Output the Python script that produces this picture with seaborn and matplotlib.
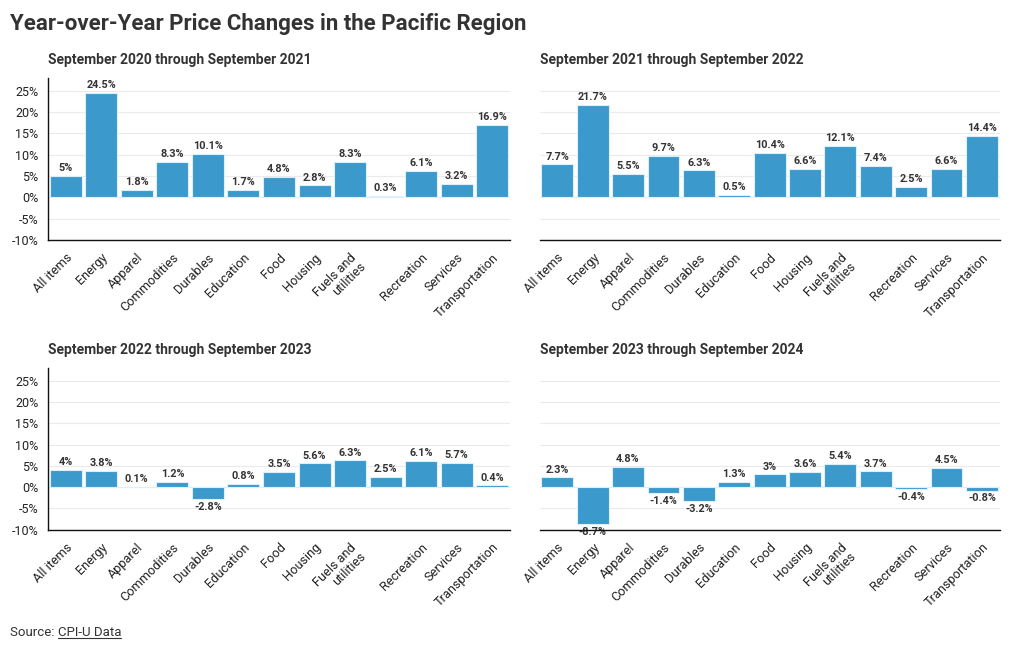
import numpy as np
import pandas as pd
import seaborn as sns
import matplotlib.pyplot as plt
from matplotlib.lines import Line2D

# ---------------------------------------------------------
# Pacific region CPI-U year-over-year changes (%)
# ---------------------------------------------------------
categories = ["All items", "Energy", "Apparel", "Commodities", "Durables",
              "Education", "Food", "Housing", "Fuels and\nutilities", "",
              "Recreation", "Services", "Transportation"]

chg_2021 = [5.0, 24.5, 1.8, 8.3, 10.1, 1.7, 4.8, 2.8, 8.3, 0.3, 6.1, 3.2, 16.9]
chg_2022 = [7.7, 21.7, 5.5, 9.7, 6.3, 0.5, 10.4, 6.6, 12.1, 7.4, 2.5, 6.6, 14.4]
chg_2023 = [4.0, 3.8, 0.1, 1.2, -2.8, 0.8, 3.5, 5.6, 6.3, 2.5, 6.1, 5.7, 0.4]
chg_2024 = [2.3, -8.7, 4.8, -1.4, -3.2, 1.3, 3.0, 3.6, 5.4, 3.7, -0.4, 4.5, -0.8]

panel_titles = ["September 2020 through September 2021",
                "September 2021 through September 2022",
                "September 2022 through September 2023",
                "September 2023 through September 2024"]
panel_values = [chg_2021, chg_2022, chg_2023, chg_2024]

y_ticks = [-10, -5, 0, 5, 10, 15, 20, 25]

# ---------------------------------------------------------
# Styling
# ---------------------------------------------------------
sns.set_style("white")
plt.rcParams["font.family"] = ["Roboto", "DejaVu Sans"]

BAR = "#3b99cc"
EDGE = "#dcefff"
TXT = "#333333"

fig = plt.figure(figsize=(10.2, 6.5), dpi=100)

positions = [
    [0.047, 0.631, 0.453, 0.249],
    [0.529, 0.631, 0.451, 0.249],
    [0.047, 0.185, 0.453, 0.249],
    [0.529, 0.185, 0.451, 0.249],
]

for i, (pos, title, vals) in enumerate(zip(positions, panel_titles, panel_values)):
    ax = fig.add_axes(pos)
    df = pd.DataFrame({"Category": categories, "Change": vals})
    sns.barplot(data=df, x="Category", y="Change", color=BAR, width=0.9,
                edgecolor=EDGE, linewidth=0.8, saturation=1, ax=ax, zorder=2)

    ax.set_ylim(-10, 28)
    ax.set_xlim(-0.5, len(categories) - 0.5)
    ax.set_yticks(y_ticks)
    ax.set_yticklabels([f"{t}%" for t in y_ticks], fontsize=9, color="#222222")
    ax.yaxis.grid(True, color="#ebebeb", linewidth=0.8, zorder=0)
    ax.set_axisbelow(True)
    ax.set_xlabel("")
    ax.set_ylabel("")

    ax.set_xticks(range(len(categories)))
    ax.set_xticklabels(categories, rotation=45, ha="right",
                       rotation_mode="anchor", fontsize=9.2, color="#222222",
                       linespacing=0.95)
    ax.tick_params(axis="x", length=5, color="#666666", width=1, pad=3)

    for s in ["top", "right"]:
        ax.spines[s].set_visible(False)
    ax.spines["bottom"].set_color("#111111")
    ax.spines["bottom"].set_linewidth(1)
    ax.spines["bottom"].set_zorder(5)

    if i % 2 == 0:
        ax.spines["left"].set_color("#111111")
        ax.spines["left"].set_linewidth(1)
        ax.tick_params(axis="y", length=5, color="#666666", width=1, pad=2)
    else:
        ax.spines["left"].set_visible(False)
        ax.tick_params(axis="y", length=0, labelleft=False)

    labels = [f"{v:g}%" for v in vals]
    texts = ax.bar_label(ax.containers[0], labels=labels, padding=2,
                         fontsize=7.8, fontweight="bold", color=TXT)
    for t in texts:
        t.set_zorder(1)
        t.set_clip_on(True)

    ax.text(0.0, 1.07, title, transform=ax.transAxes, fontsize=10,
            fontweight="bold", color=TXT, ha="left", va="bottom")

fig.text(0.0098, 0.963, "Year-over-Year Price Changes in the Pacific Region",
         fontsize=16, fontweight="bold", color=TXT, ha="left", va="center")

src = fig.text(0.0098, 0.027, "Source: ", fontsize=9.5, color=TXT,
               ha="left", va="center")
fig.canvas.draw()
r = fig.canvas.get_renderer()
bb = src.get_window_extent(renderer=r)
x0 = bb.x1 / fig.bbox.width
link = fig.text(x0, 0.027, "CPI-U Data", fontsize=9.5, color=TXT,
                ha="left", va="center")
fig.canvas.draw()
lb = link.get_window_extent(renderer=r)
uy = (lb.y0 + 0.5) / fig.bbox.height
fig.add_artist(Line2D([lb.x0 / fig.bbox.width, lb.x1 / fig.bbox.width],
                      [uy, uy], color=TXT, linewidth=0.8,
                      transform=fig.transFigure))

fig.savefig("out.png", dpi=100)
